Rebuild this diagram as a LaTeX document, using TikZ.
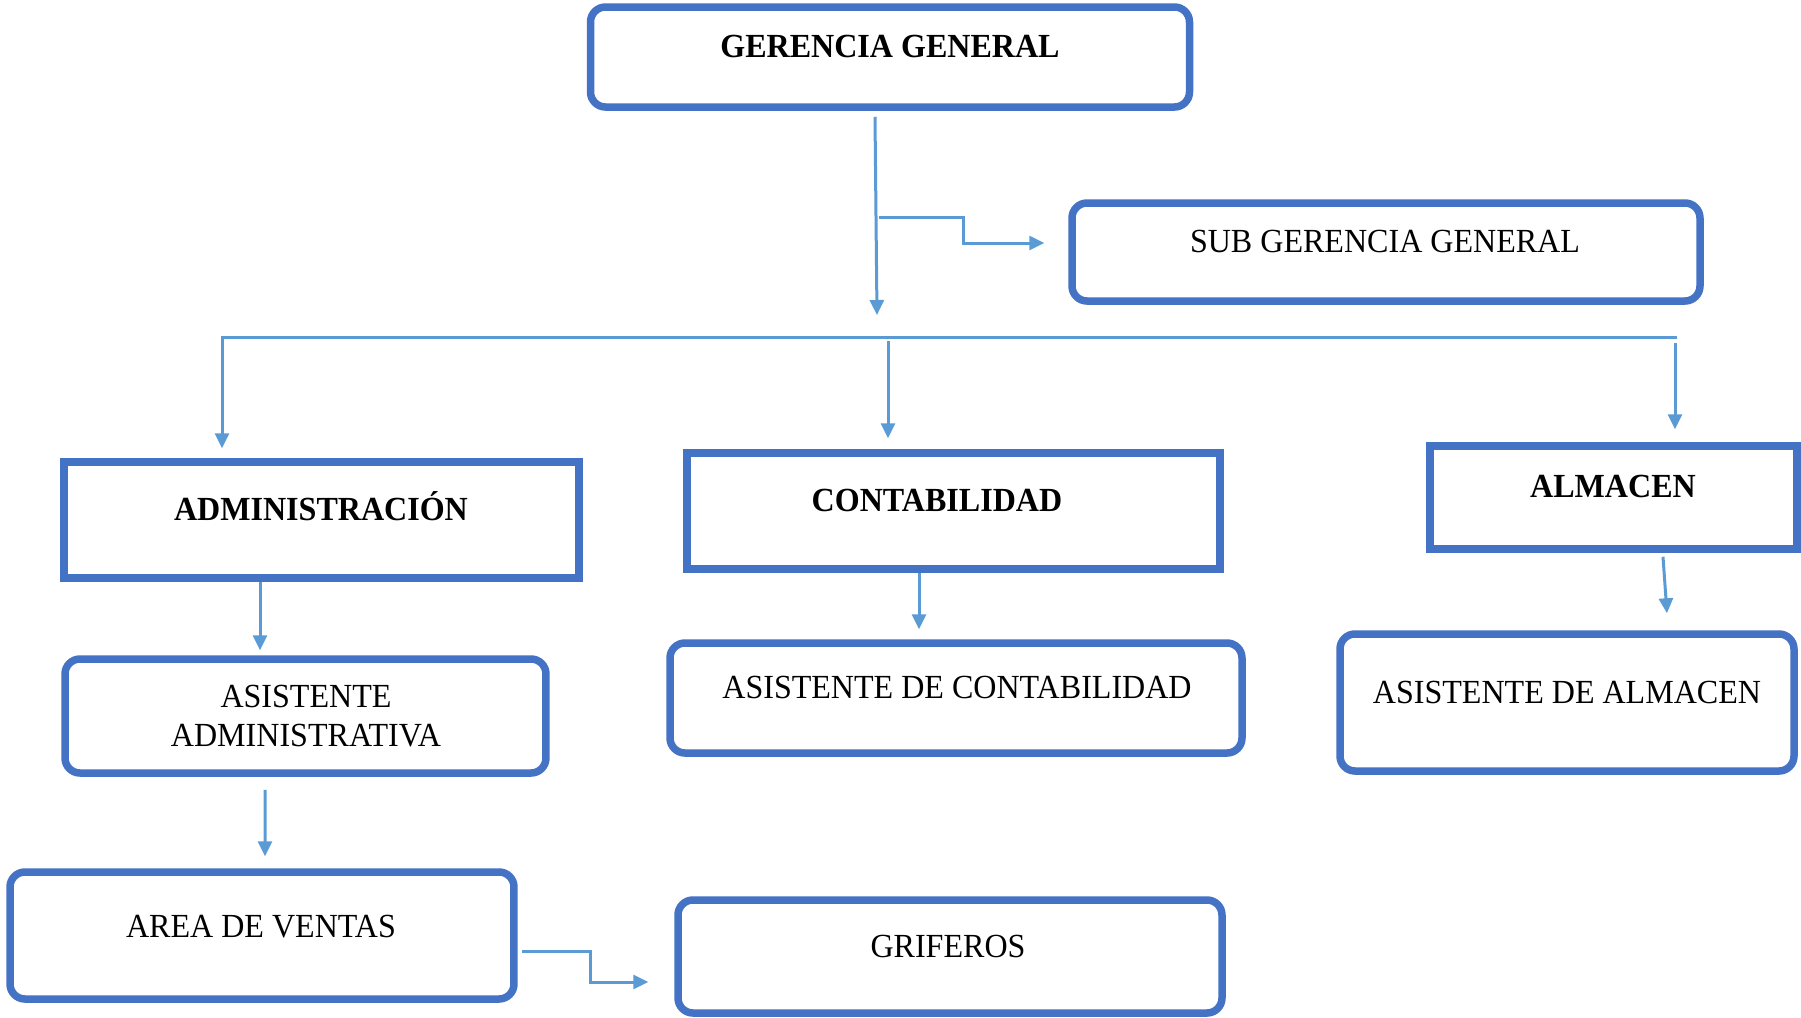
\documentclass[tikz,border=0pt]{standalone}
\usepackage{fontspec}
\setmainfont{Liberation Serif}[FakeStretch=0.95]
\usetikzlibrary{arrows.meta}
\definecolor{boxblue}{HTML}{4472C4}
\definecolor{linkblue}{HTML}{5B9BD5}
\newcommand{\chartfont}{\fontsize{9.6}{11}\selectfont}

\begin{document}
\begin{tikzpicture}[x=0.1mm, y=-0.1mm,
  sqbox/.style={draw=boxblue, line width=0.75mm, inner sep=0pt},
  rbox/.style={sqbox, rounded corners=1.5mm},
  lbl/.style={font=\chartfont, inner sep=0pt, anchor=base},
  blbl/.style={lbl, font=\chartfont\bfseries},
  link/.style={draw=linkblue, line width=0.3mm, -{Triangle[length=1.5mm, width=1.4mm]}}]
\useasboundingbox (0,0) rectangle (1801,1017);
\node[rbox, minimum width=59.9mm, minimum height=10mm] (gg) at (890,57) {};
\node[rbox, minimum width=62.8mm, minimum height=9.8mm] (sub) at (1386,252) {};
\node[sqbox, minimum width=51.5mm, minimum height=11.6mm] (admin) at (321.5,520) {};
\node[sqbox, minimum width=53.3mm, minimum height=11.6mm] (contab) at (953.5,511) {};
\node[sqbox, minimum width=36.7mm, minimum height=10.3mm] (almacen) at (1613.5,497.5) {};
\node[rbox, minimum width=48.1mm, minimum height=11.4mm] (asistadmin) at (305.5,716) {};
\node[rbox, minimum width=57.2mm, minimum height=11mm] (asistcontab) at (956,698) {};
\node[rbox, minimum width=45.4mm, minimum height=13.7mm] (asistalm) at (1567,702.5) {};
\node[rbox, minimum width=50.4mm, minimum height=12.7mm] (area) at (262,935.5) {};
\node[rbox, minimum width=54.4mm, minimum height=11.3mm] (grif) at (950,956.5) {};
\node[blbl] (ggt) at (890,57) {GERENCIA GENERAL};
\node[lbl] (subt) at (1385,252) {SUB GERENCIA GENERAL};
\node[blbl] (admint) at (321,520) {ADMINISTRACIÓN};
\node[blbl] (contabt) at (937,511) {CONTABILIDAD};
\node[blbl] (almacent) at (1613,497) {ALMACEN};
\node[lbl, anchor=center, align=center] (asistadmint) at (306,716) {ASISTENTE\\ADMINISTRATIVA};
\node[lbl] (asistcontabt) at (957,698) {ASISTENTE DE CONTABILIDAD};
\node[lbl] (asistalmt) at (1567,703) {ASISTENTE DE ALMACEN};
\node[lbl] (areat) at (261,937) {AREA DE VENTAS};
\node[lbl] (grift) at (948,957) {GRIFEROS};
\coordinate (ggend) at (877,315);
\coordinate (ggbr) at (879,217);
\coordinate (busl) at (222,337);
\coordinate (busr) at (1677,337);
\coordinate (busm) at (888,341);
\coordinate (busrd) at (1675,343);
\draw[link] ([xshift=-1.5mm,yshift=-0.6mm]gg.south) -- (ggend);
\draw[link] (ggbr) -- ++(84,0) |- ([xshift=-2.4mm,yshift=0.9mm]sub.west);
\draw[link, shorten >=1mm] (busr) -- (busl) -- (busl |- admin.north);
\draw[link, shorten >=1.1mm] (busm) -- (busm |- contab.north);
\draw[link, shorten >=1.3mm] (busrd) -- (busrd |- almacen.north);
\draw[link, shorten >=0.5mm] ([xshift=-6.15mm]admin.south) coordinate (a1) -- (a1 |- asistadmin.north);
\draw[link, shorten >=1mm] ([xshift=-3.45mm]contab.south) coordinate (c1) -- (c1 |- asistcontab.north);
\draw[link] ([xshift=4.95mm,yshift=-0.4mm]almacen.south) -- ([xshift=10mm,yshift=1.7mm]asistalm.north);
\draw[link] ([xshift=-4.05mm,yshift=-1.3mm]asistadmin.south) -- ([xshift=0.3mm,yshift=1.2mm]area.north);
\draw[link] ([xshift=0.4mm,yshift=-1.55mm]area.east) -- ++(69,0) |- ([xshift=-2.6mm,yshift=-2.55mm]grif.west);
\end{tikzpicture}
\end{document}
